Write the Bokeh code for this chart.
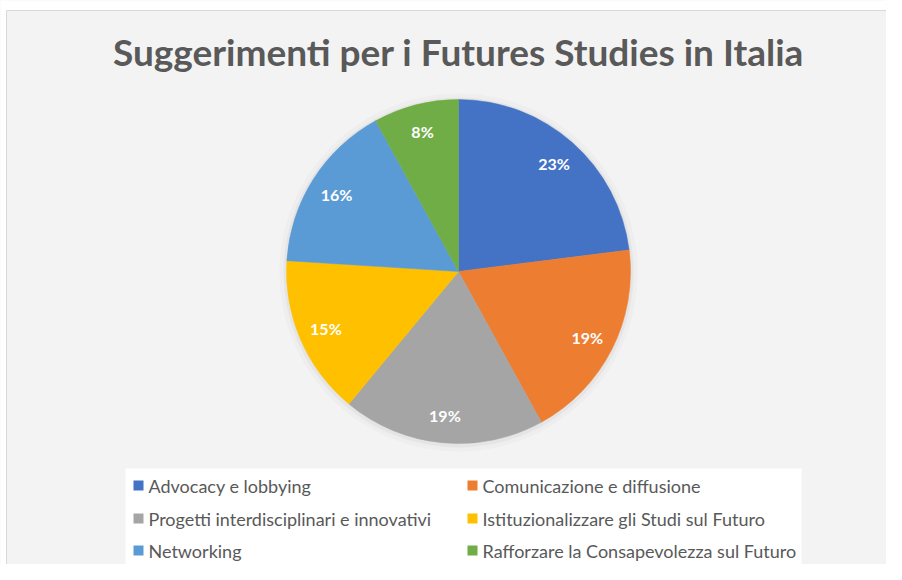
import math
from bokeh.plotting import figure
from bokeh.models import Range1d, ColumnDataSource
from bokeh.core.properties import value
from bokeh.embed import file_html
from bokeh.resources import INLINE

# ---- data ----
categories = [
    "Advocacy e lobbying",
    "Comunicazione e diffusione",
    "Progetti interdisciplinari e innovativi",
    "Istituzionalizzare gli Studi sul Futuro",
    "Networking",
    "Rafforzare la Consapevolezza sul Futuro",
]
shares = [23, 19, 19, 15, 16, 8]
colors = ["#4472C4", "#ED7D31", "#A5A5A5", "#FFC000", "#5B9BD5", "#70AD47"]
title_text = "Suggerimenti  per i  Futures Studies in Italia"

W, H = 886, 564
FONT = "Lato"

def X(rx):
    return rx

def Y(ry):
    return H - ry

p = figure(width=W, height=H, output_backend="svg", toolbar_location=None,
           x_range=Range1d(0, W), y_range=Range1d(0, H), min_border=0)
p.axis.visible = False
p.grid.visible = False
p.outline_line_color = None
p.background_fill_color = "#f3f3f3"
p.border_fill_color = "#f3f3f3"

# white page strip at top / left and thin chart border
p.rect(x=[W / 2], y=[Y(5)], width=W, height=10, fill_color="white", line_color=None)
p.rect(x=[3], y=[H / 2], width=6, height=H, fill_color="white", line_color=None)
p.line(x=[X(6), X(6), W], y=[0, Y(10), Y(10)], line_color="#d9d9d9", line_width=1)

# pie geometry
cx, cy, R = X(458), Y(271), 172
total = float(sum(shares))
cum = [0.0]
for s in shares:
    cum.append(cum[-1] + s / total)
starts = [math.pi / 2 - 2 * math.pi * cum[i + 1] for i in range(len(shares))]
ends = [math.pi / 2 - 2 * math.pi * cum[i] for i in range(len(shares))]
mids = [math.pi / 2 - 2 * math.pi * (cum[i] + cum[i + 1]) / 2 for i in range(len(shares))]
lr = 0.84 * R
lx = [cx + lr * math.cos(a) for a in mids]
ly = [cy + lr * math.sin(a) for a in mids]
labels = [f"{s}%" for s in shares]

src = ColumnDataSource(dict(start=starts, end=ends, color=colors, lx=lx, ly=ly,
                            label=labels, cat=categories))

# soft shadow
p.circle(x=[cx], y=[cy - 1], radius=R + 7, fill_color="#c8c8c8", fill_alpha=0.10, line_color=None)
p.circle(x=[cx], y=[cy - 1], radius=R + 3, fill_color="#b8b8b8", fill_alpha=0.16, line_color=None)

p.wedge(x=cx, y=cy, radius=R, start_angle="start", end_angle="end",
        fill_color="color", line_color="color", line_width=0.5, source=src)

p.text(x="lx", y="ly", text="label", source=src, text_color="white",
       text_font=value(FONT), text_font_style="bold", text_font_size="16px",
       text_align="center", text_baseline="middle")

# title
p.text(x=[X(467)], y=[Y(51)], text=[title_text], text_color="#595959",
       text_font=value(FONT), text_font_style="bold", text_font_size="37px",
       text_align="center", text_baseline="middle")

# legend box
p.rect(x=[(X(125) + X(801)) / 2], y=[(Y(468) + Y(574)) / 2], width=X(801) - X(125),
       height=Y(468) - Y(574), fill_color="white", line_color=None)

col_x = [X(138), X(472)]
row_y = [Y(485), Y(518), Y(550)]
mx = [col_x[i % 2] for i in range(len(categories))]
my = [row_y[i // 2] for i in range(len(categories))]
tx = [m + 10 for m in mx]
lsrc = ColumnDataSource(dict(mx=mx, my=my, tx=tx, cat=categories, color=colors))
p.rect(x="mx", y="my", width=10, height=10, fill_color="color", line_color=None, source=lsrc)
p.text(x="tx", y="my", text="cat", source=lsrc, text_color="#595959",
       text_font=value(FONT), text_font_size="18px", text_baseline="middle")

open("out.html", "w").write(file_html(p, INLINE))
